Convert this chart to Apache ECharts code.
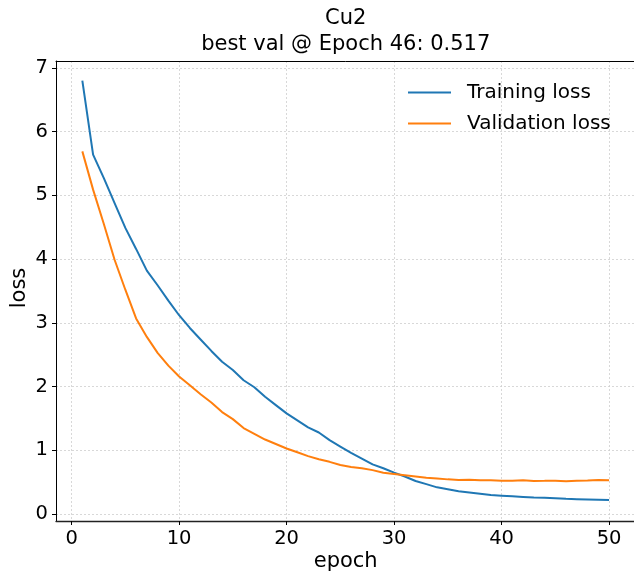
<!DOCTYPE html>
<html>
<head>
<meta charset="utf-8">
<script src="https://cdn.jsdelivr.net/npm/echarts@6/dist/echarts.min.js"></script>
<style>html,body{margin:0;padding:0;background:#fff}#c{width:634px;height:579px}</style>
</head>
<body>
<div id="c"></div>
<script>
const epochs = [1,2,3,4,5,6,7,8,9,10,11,12,13,14,15,16,17,18,19,20,21,22,23,24,25,26,27,28,29,30,31,32,33,34,35,36,37,38,39,40,41,42,43,44,45,46,47,48,49,50];
const trainingLoss = [6.80,5.64,5.27,4.88,4.49,4.16,3.82,3.59,3.35,3.12,2.92,2.74,2.56,2.39,2.26,2.10,1.99,1.84,1.71,1.58,1.47,1.36,1.28,1.16,1.06,0.96,0.87,0.78,0.72,0.65,0.59,0.52,0.47,0.42,0.39,0.36,0.34,0.32,0.30,0.29,0.28,0.27,0.26,0.255,0.25,0.24,0.235,0.23,0.225,0.22];
const validationLoss = [5.69,5.09,4.55,3.99,3.52,3.07,2.78,2.53,2.33,2.16,2.02,1.88,1.75,1.60,1.49,1.35,1.26,1.17,1.10,1.03,0.97,0.91,0.86,0.82,0.77,0.74,0.72,0.69,0.65,0.63,0.61,0.59,0.57,0.56,0.545,0.535,0.54,0.53,0.53,0.525,0.525,0.53,0.521,0.522,0.525,0.517,0.522,0.527,0.535,0.53];
const xTicks = [0,10,20,30,40,50];
const yTicks = [0,1,2,3,4,5,6,7];
const titleLine1 = 'Cu2';
const titleLine2 = 'best val @ Epoch 46: 0.517';

const FONT = 'DejaVu Sans';
const chart = echarts.init(document.getElementById('c'), null, {renderer: 'canvas'});
const gridLine = {show: true, lineStyle: {color: '#cfcfcf', width: 0.8, type: [2, 2]}};
chart.setOption({
  animation: false,
  backgroundColor: '#fff',
  grid: {left: 56, top: 61, width: 579.4, bottom: 58, show: false, containLabel: false, outerBoundsMode: 'none'},
  graphic: [
    {type: 'text', style: {text: titleLine1, fontFamily: FONT, fontSize: 21, fill: '#000', textAlign: 'center', textVerticalAlign: 'middle'}, x: 345.7, y: 19},
    {type: 'text', style: {text: titleLine2, fontFamily: FONT, fontSize: 21, fill: '#000', textAlign: 'center', textVerticalAlign: 'middle'}, x: 345.7, y: 45},
    {type: 'text', style: {text: 'epoch', fontFamily: FONT, fontSize: 21, fill: '#000', textAlign: 'center', textVerticalAlign: 'middle'}, x: 345.7, y: 562},
    {type: 'text', style: {text: 'loss', fontFamily: FONT, fontSize: 21, fill: '#000', textAlign: 'center', textVerticalAlign: 'middle'}, x: 20, y: 288, rotation: Math.PI / 2}
  ],
  legend: {
    orient: 'vertical', left: 403, top: 77,
    itemWidth: 43, itemHeight: 2.2, itemGap: 10, icon: 'rect',
    textStyle: {fontFamily: FONT, fontSize: 20, color: '#000', padding: [0, 0, 0, 11], lineHeight: 21},
    data: ['Training loss', 'Validation loss']
  },
  xAxis: [{
    type: 'value', min: -1.45, max: 52.45,
    axisLine: {show: true, onZero: false, lineStyle: {color: '#222', width: 1.3}},
    axisTick: {show: true, length: 4, lineStyle: {color: '#000', width: 1}, customValues: xTicks},
    axisLabel: {fontFamily: FONT, fontSize: 19.5, color: '#000', margin: 8, customValues: xTicks},
    splitLine: gridLine
  }, {
    type: 'value', position: 'top', min: -1.45, max: 52.45,
    axisLine: {show: true, onZero: false, lineStyle: {color: '#000', width: 1}},
    axisTick: {show: false}, axisLabel: {show: false}, splitLine: {show: false}
  }],
  yAxis: {
    type: 'value', min: -0.108, max: 7.108,
    axisLine: {show: true, onZero: false, lineStyle: {color: '#000', width: 1}},
    axisTick: {show: true, length: 4, lineStyle: {color: '#000', width: 1}, customValues: yTicks},
    axisLabel: {fontFamily: FONT, fontSize: 19.5, color: '#000', margin: 8, customValues: yTicks},
    splitLine: gridLine
  },
  series: [
    {name: 'Training loss', type: 'line', showSymbol: false, symbol: 'none', color: '#1f77b4',
     lineStyle: {width: 2, color: '#1f77b4'}, data: epochs.map((e, i) => [e, trainingLoss[i]])},
    {name: 'Validation loss', type: 'line', showSymbol: false, symbol: 'none', color: '#ff7f0e',
     lineStyle: {width: 2, color: '#ff7f0e'}, data: epochs.map((e, i) => [e, validationLoss[i]])}
  ]
});
</script>
</body>
</html>
